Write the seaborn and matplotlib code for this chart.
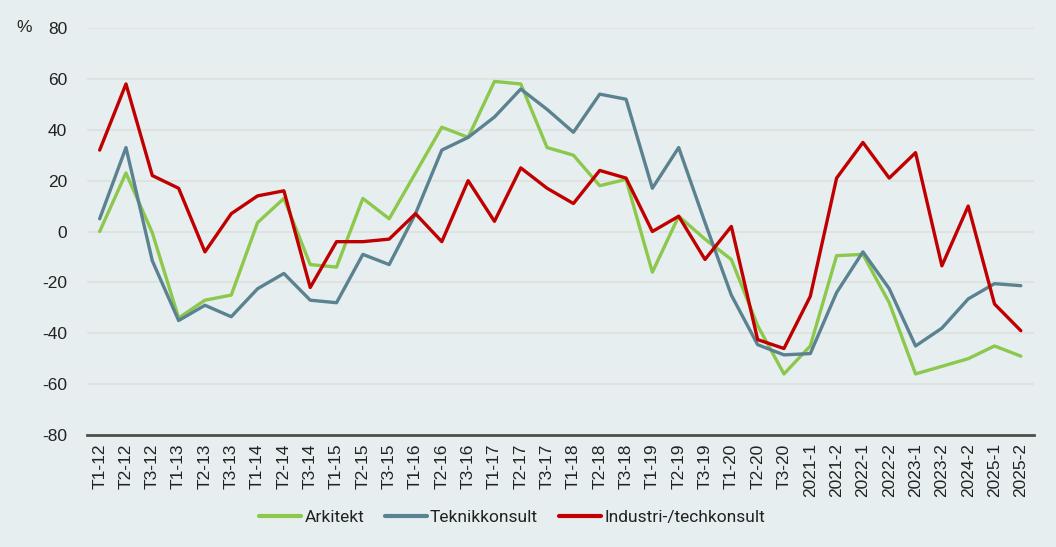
import matplotlib
matplotlib.use("Agg")
import matplotlib.pyplot as plt
import seaborn as sns
import pandas as pd
import numpy as np

periods = ["T1-12", "T2-12", "T3-12", "T1-13", "T2-13", "T3-13", "T1-14", "T2-14", "T3-14",
           "T1-15", "T2-15", "T3-15", "T1-16", "T2-16", "T3-16", "T1-17", "T2-17", "T3-17",
           "T1-18", "T2-18", "T3-18", "T1-19", "T2-19", "T3-19", "T1-20", "T2-20", "T3-20",
           "2021-1", "2021-2", "2022-1", "2022-2", "2023-1", "2023-2", "2024-2", "2025-1", "2025-2"]

arkitekt = [0, 23, -0.5, -34, -27, -25, 3.5, 13, -13, -14, 13, 5, 23, 41, 37, 59, 58, 33,
            30, 18, 20.5, -16, 6, -3, -11, -37, -56, -45, -9.5, -9, -28, -56, -53, -50, -45, -49]
teknikkonsult = [5, 33, -11.5, -35, -29, -33.5, -22.5, -16.5, -27, -28, -9, -13, 7, 32, 37, 45, 56, 48,
                 39, 54, 52, 17, 33, 3.5, -25, -44.5, -48.5, -48, -24, -8, -22.5, -45, -38, -26.5, -20.5, -21.3]
industri = [32, 58, 22, 17, -8, 7, 14, 16, -22, -4, -4, -3, 7, -4, 20, 4, 25, 17,
            11, 24, 21, 0, 6, -11, 2, -42.5, -46, -25.5, 21, 35, 21, 31, -13.5, 10, -28.5, -39]

series_names = ["Arkitekt", "Teknikkonsult", "Industri-/techkonsult"]
colors = ["#8cc84b", "#5b8290", "#c00000"]

df = pd.concat([
    pd.DataFrame({"idx": np.arange(len(periods)), "value": vals, "serie": name})
    for name, vals in zip(series_names, [arkitekt, teknikkonsult, industri])
])

sns.set_theme(style="white")
plt.rcParams["font.family"] = ["Liberation Sans", "DejaVu Sans"]

bg = "#e6eef0"
fig = plt.figure(figsize=(10.56, 5.47), dpi=100, facecolor=bg)
ax = fig.add_axes([86.5 / 1056, 1 - 435 / 547, (1034 - 86.5) / 1056, (435 - 28) / 547])
ax.set_facecolor(bg)

sns.lineplot(data=df, x="idx", y="value", hue="serie", hue_order=series_names,
             palette=colors, linewidth=2.4, ax=ax, sort=False, legend=True)

ax.set_xlim(-0.5, len(periods) - 0.5)
ax.set_ylim(-80, 80)
ax.set_yticks(np.arange(-80, 81, 20))
ax.set_yticklabels([str(v) for v in range(-80, 81, 20)], fontsize=12.5, color="#222222")
ax.set_xticks(np.arange(len(periods)))
ax.set_xticklabels(periods, rotation=90, fontsize=12.5, color="#222222")
ax.tick_params(axis="both", length=0, pad=6)
ax.tick_params(axis="y", pad=14)
ax.grid(axis="y", color="#dfe1dd", linewidth=1.3)
ax.set_axisbelow(True)
for s in ["top", "right", "left"]:
    ax.spines[s].set_visible(False)
ax.spines["bottom"].set_color("#4a4f4a")
ax.spines["bottom"].set_linewidth(2)
ax.spines["bottom"].set_zorder(5)
ax.set_xlabel("")
ax.set_ylabel("")

fig.text(24 / 1056, 1 - 28 / 547, "%", fontsize=12.5, color="#222222", ha="center", va="center")

leg = ax.legend(loc="center", bbox_to_anchor=(512 / 1056, 1 - 517 / 547), ncol=3,
                frameon=False, handlelength=2.4, handletextpad=0.2,
                columnspacing=1.2, bbox_transform=fig.transFigure,
                prop={"family": "Roboto", "size": 12.5})
for line in leg.get_lines():
    line.set_linewidth(3)
for t in leg.get_texts():
    t.set_color("#222222")

fig.savefig("out.png", dpi=100, facecolor=bg)
